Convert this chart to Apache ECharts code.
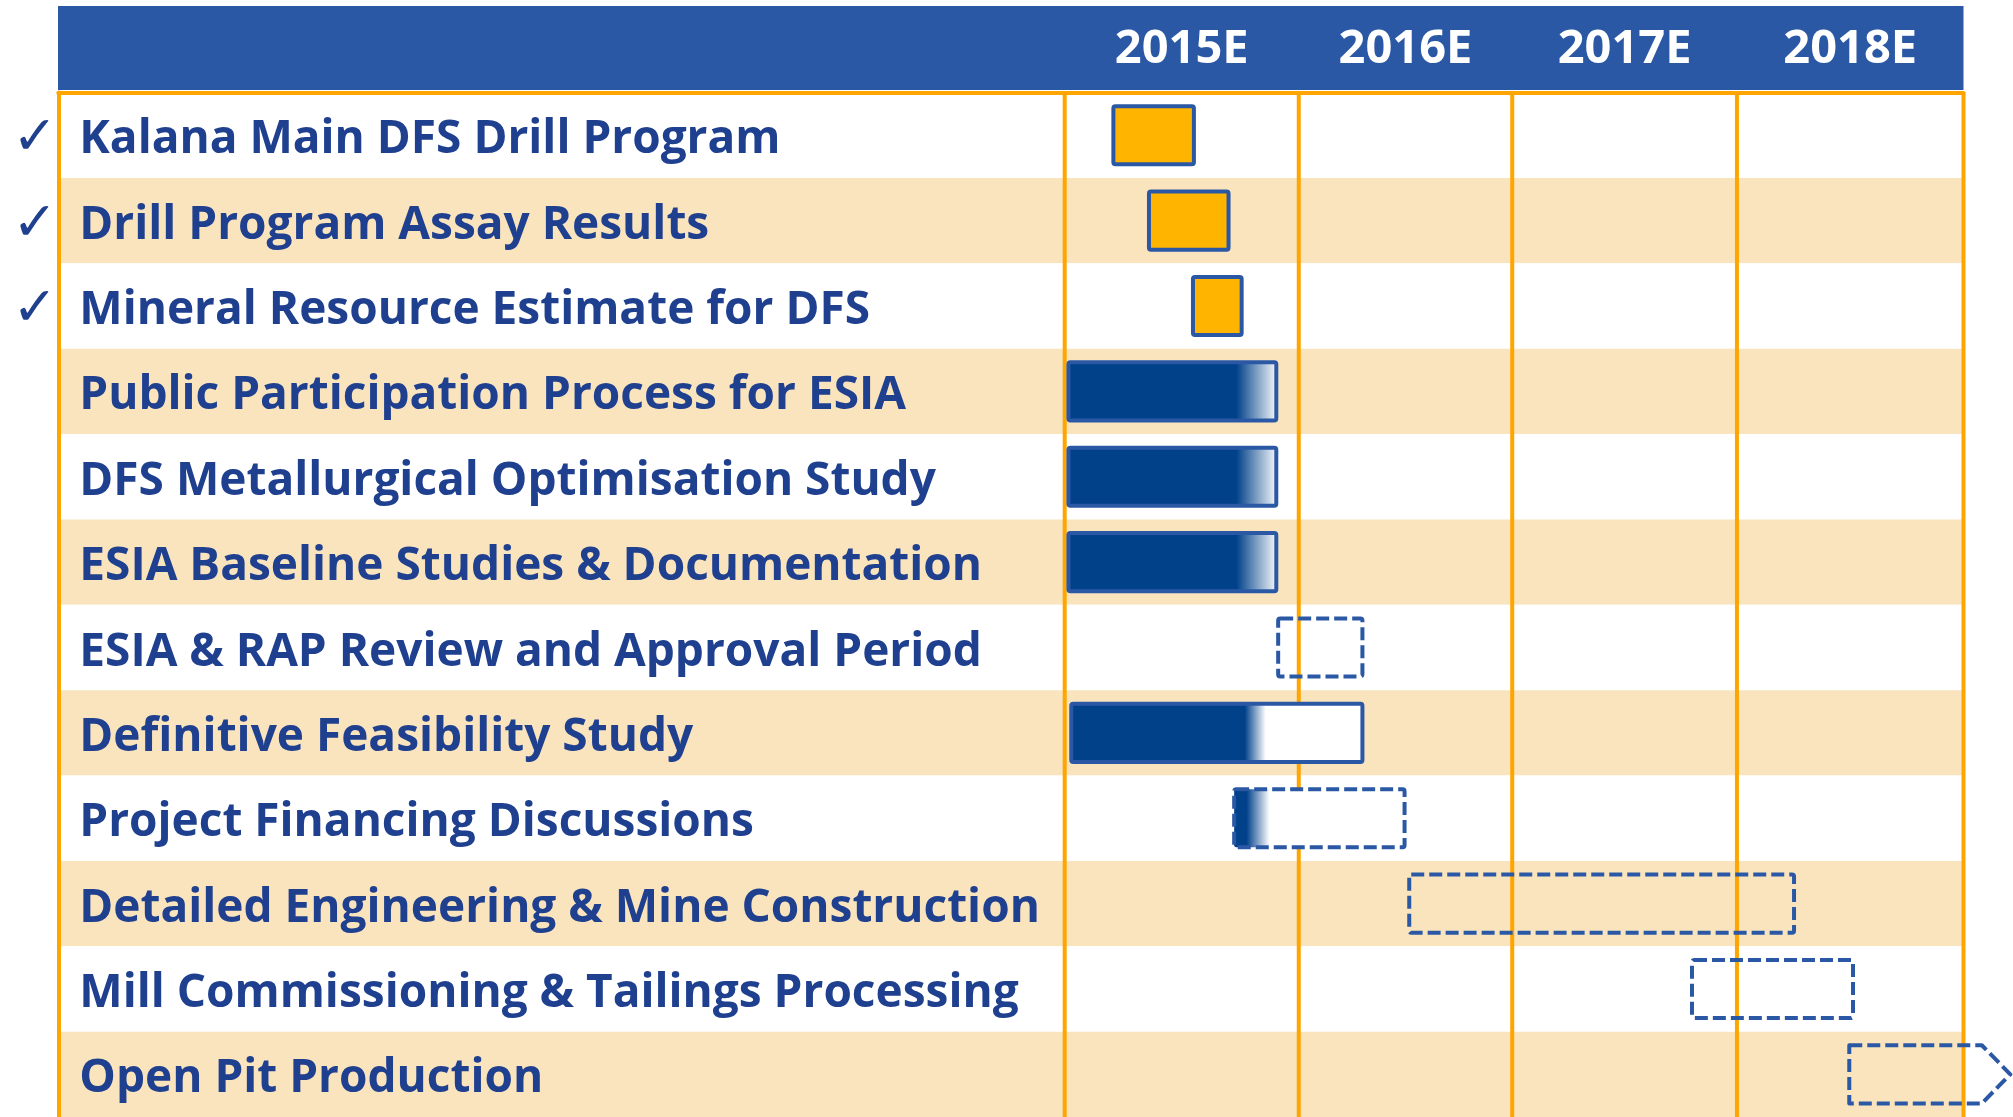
<!DOCTYPE html>
<html>
<head>
<meta charset="utf-8">
<script src="https://cdn.jsdelivr.net/npm/echarts@6/dist/echarts.min.js"></script>
<style>
html,body{margin:0;padding:0;background:#fff;}
#chart{width:2013px;height:1117px;}
</style>
</head>
<body>
<div id="chart"></div>
<script>
// ---- data (months from start of 2015) ----
const tasks = [
  'Kalana Main DFS Drill Program',
  'Drill Program Assay Results',
  'Mineral Resource Estimate for DFS',
  'Public Participation Process for ESIA',
  'DFS Metallurgical Optimisation Study',
  'ESIA Baseline Studies & Documentation',
  'ESIA & RAP Review and Approval Period',
  'Definitive Feasibility Study',
  'Project Financing Discussions',
  'Detailed Engineering & Mine Construction',
  'Mill Commissioning & Tailings Processing',
  'Open Pit Production'
];
const completed = [true, true, true, false, false, false, false, false, false, false, false, false];
const status = ['done', 'done', 'done', 'active', 'active', 'active', 'planned', 'active', 'planned', 'planned', 'planned', 'ongoing'];
const startMonth = [2.6, 4.5, 6.85, 0.2, 0.2, 0.2, 11.4, 0.35, 9.05, 18.4, 33.5, 41.9];
const endMonth = [6.9, 8.75, 9.45, 11.3, 11.3, 11.3, 15.9, 15.9, 18.15, 38.95, 42.1, 50.5];
const progressMonth = [null, null, null, 9.1, 9.1, 9.1, null, 9.6, 9.8, null, null, null];
const fadeEndMonth = [null, null, null, 11.3, 11.3, 11.3, null, 10.7, 11.0, null, null, null];
const yearLabels = ['2015E', '2016E', '2017E', '2018E'];
const yearBounds = [0, 12.5, 23.9, 35.9, 48];

// ---- styles ----
const ORANGE = '#FFA500';
const TAN = '#FAE4BE';
const HEADER = '#2A58A4';
const TEXT = '#1F3F8F';
const STROKE = '#2B58A5';
const NAVY = '#00418A';
const YELLOW = '#FFB400';

const chart = echarts.init(document.getElementById('chart'), null, {renderer: 'canvas'});

const barData = tasks.map((t, i) => [i, startMonth[i], endMonth[i], progressMonth[i], fadeEndMonth[i]]);

function renderBar(params, api) {
  const i = api.value(0);
  const s = api.coord([api.value(1), i]);
  const e = api.coord([api.value(2), i]);
  const rowH = api.size([0, 1])[1];
  const h = rowH * 0.681;
  const x0 = s[0], x1 = e[0], y0 = s[1] - h / 2;
  const w = x1 - x0;
  const st = status[i];
  let fill = 'none';
  const prog = progressMonth[i];
  if (st === 'done') fill = YELLOW;
  else if (prog != null) {
    const px = api.coord([prog, i])[0];
    const fx = api.coord([fadeEndMonth[i], i])[0];
    const p1 = Math.max(0, Math.min(1, (px - x0) / w));
    const p2 = Math.max(p1, Math.min(1, (fx - x0) / w));
    fill = {type: 'linear', x: 0, y: 0, x2: 1, y2: 0, colorStops: [
      {offset: 0, color: NAVY}, {offset: p1, color: NAVY},
      {offset: p2, color: '#FFFFFF'}, {offset: 1, color: '#FFFFFF'}]};
  }
  const dashed = (st === 'planned' || st === 'ongoing');
  const style = {
    fill: fill,
    stroke: STROKE,
    lineWidth: 4,
    lineDash: dashed ? [13, 5] : null,
    lineJoin: 'round'
  };
  if (st === 'ongoing') {
    const d = h * 0.49;
    return {
      type: 'polygon',
      shape: {points: [[x0, y0], [x1 - d, y0], [x1, y0 + h / 2], [x1 - d, y0 + h], [x0, y0 + h]]},
      style: style
    };
  }
  return {type: 'rect', shape: {x: x0, y: y0, width: w, height: h, r: 2}, style: style};
}

function renderDivider(params, api) {
  const cs = params.coordSys;
  const x = api.coord([api.value(0), 0])[0];
  return {type: 'line', shape: {x1: x, y1: cs.y, x2: x, y2: cs.y + cs.height + 5},
    style: {stroke: ORANGE, lineWidth: 4}};
}

function renderYear(params, api) {
  const cs = params.coordSys;
  const a = api.coord([api.value(0), 0])[0];
  const b = api.coord([api.value(1), 0])[0];
  return {type: 'text', x: (a + b) / 2, y: cs.y - 42.5,
    style: {text: yearLabels[api.value(2)], fill: '#FFFFFF',
      font: 'bold 47px "Open Sans"', align: 'center', verticalAlign: 'middle'}};
}

const GRID_TOP = 92.6, GRID_H = 1029;

const option = {
  animation: false,
  backgroundColor: '#FFFFFF',
  graphic: [{type: 'rect', shape: {x: 58, y: 6, width: 1905.5, height: 84}, style: {fill: HEADER}, z: 0}],
  grid: [
    {left: 58.3, top: GRID_TOP, width: 1006.4, height: GRID_H},
    {left: 1064.7, top: GRID_TOP, width: 898.8, height: GRID_H}
  ],
  xAxis: [
    {gridIndex: 0, type: 'value', min: 0, max: 1, position: 'top',
      axisLine: {show: true, onZero: false, lineStyle: {color: ORANGE, width: 4}},
      axisTick: {show: false}, axisLabel: {show: false}, splitLine: {show: false}},
    {gridIndex: 1, type: 'value', min: 0, max: 48, position: 'top',
      axisLine: {show: true, onZero: false, lineStyle: {color: ORANGE, width: 4}},
      axisTick: {show: false}, axisLabel: {show: false}, splitLine: {show: false}}
  ],
  yAxis: [
    {gridIndex: 0, type: 'category', data: tasks, inverse: true, position: 'left',
      axisLine: {show: true, onZero: false, lineStyle: {color: ORANGE, width: 4}},
      axisTick: {show: false},
      splitLine: {show: false},
      splitArea: {show: true, areaStyle: {color: ['#FFFFFF', TAN]}},
      axisLabel: {
        interval: 0, margin: 46, align: 'left', padding: [10, 0, 0, 0],
        formatter: (v, idx) => (completed[idx] ? '{c|\u2713}' : '{c|}') + '{t|' + v + '}',
        rich: {
          c: {width: 67, fontFamily: 'DejaVu Sans', fontWeight: 'bold', fontSize: 54, color: TEXT, verticalAlign: 'middle', lineHeight: 60},
          t: {fontFamily: 'Open Sans', fontWeight: 'bold', fontSize: 46, color: TEXT, verticalAlign: 'middle', lineHeight: 60}
        }
      }},
    {gridIndex: 1, type: 'category', data: tasks, inverse: true,
      axisLine: {show: false}, axisTick: {show: false}, axisLabel: {show: false},
      splitLine: {show: false},
      splitArea: {show: true, areaStyle: {color: ['#FFFFFF', TAN]}}}
  ],
  series: [
    {type: 'custom', name: 'dividers', xAxisIndex: 1, yAxisIndex: 1, z: 1, clip: false, silent: true,
      renderItem: renderDivider, encode: {x: 0, y: 1},
      data: yearBounds.map(v => [v, 0])},
    {type: 'custom', name: 'tasks', xAxisIndex: 1, yAxisIndex: 1, z: 3, clip: false,
      renderItem: renderBar, encode: {x: [1, 2], y: 0},
      data: barData},
    {type: 'custom', name: 'years', xAxisIndex: 1, yAxisIndex: 1, z: 4, clip: false, silent: true,
      renderItem: renderYear, encode: {x: [0, 1]},
      data: yearLabels.map((l, i) => [yearBounds[i], yearBounds[i + 1], i])}
  ]
};
chart.setOption(option);
</script>
</body>
</html>
